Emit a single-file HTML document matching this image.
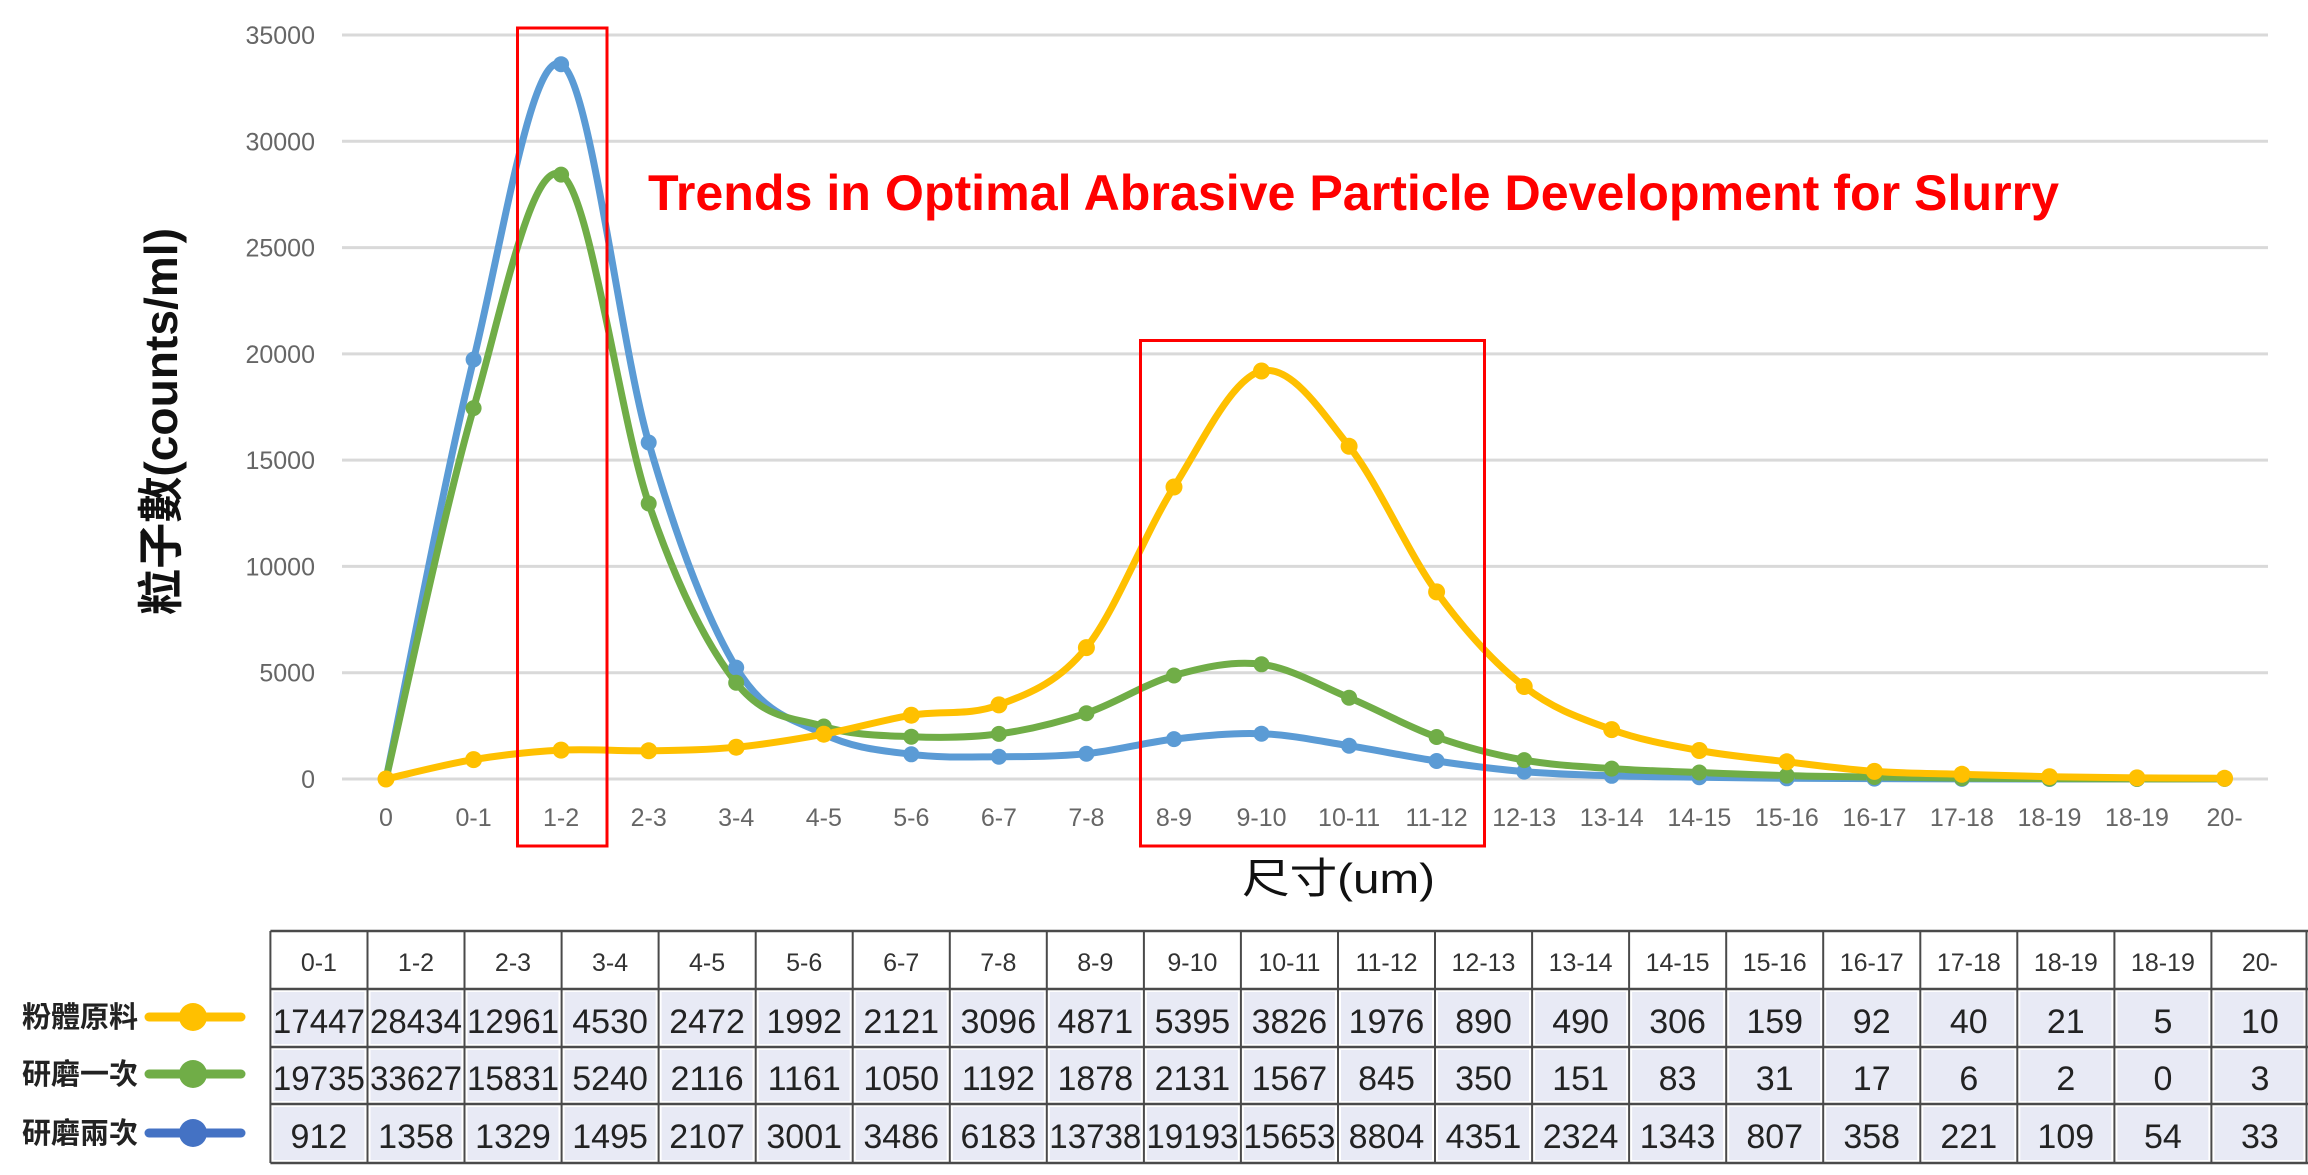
<!DOCTYPE html>
<html>
<head>
<meta charset="utf-8">
<style>
html,body{margin:0;padding:0;background:#fff;}
svg{display:block;}
.tk{font-family:"Liberation Sans",sans-serif;font-size:25px;fill:#666;}
.hd{font-family:"Liberation Sans",sans-serif;font-size:25px;fill:#333;text-anchor:middle;}
.dv{font-family:"Liberation Sans",sans-serif;font-size:34px;fill:#222;text-anchor:middle;}
.cjk{font-family:"Liberation Sans","Noto Sans CJK TC",sans-serif;}
</style>
</head>
<body>
<svg width="2308" height="1175" viewBox="0 0 2308 1175" xmlns="http://www.w3.org/2000/svg">
<rect width="2308" height="1175" fill="#fff"/>
<!-- gridlines -->
<g stroke="#d9d9d9" stroke-width="3">
<line x1="342" y1="35" x2="2268" y2="35"/>
<line x1="342" y1="141.3" x2="2268" y2="141.3"/>
<line x1="342" y1="247.6" x2="2268" y2="247.6"/>
<line x1="342" y1="353.9" x2="2268" y2="353.9"/>
<line x1="342" y1="460.1" x2="2268" y2="460.1"/>
<line x1="342" y1="566.4" x2="2268" y2="566.4"/>
<line x1="342" y1="672.7" x2="2268" y2="672.7"/>
<line x1="342" y1="779" x2="2268" y2="779"/>
</g>
<!-- y tick labels -->
<g class="tk" text-anchor="end">
<text x="315" y="44">35000</text>
<text x="315" y="150.3">30000</text>
<text x="315" y="256.6">25000</text>
<text x="315" y="362.9">20000</text>
<text x="315" y="469.1">15000</text>
<text x="315" y="575.4">10000</text>
<text x="315" y="681.7">5000</text>
<text x="315" y="788">0</text>
</g>
<!-- x tick labels -->
<g class="tk" text-anchor="middle">
<text x="386" y="826">0</text>
<text x="473.6" y="826">0-1</text>
<text x="561.1" y="826">1-2</text>
<text x="648.7" y="826">2-3</text>
<text x="736.2" y="826">3-4</text>
<text x="823.8" y="826">4-5</text>
<text x="911.3" y="826">5-6</text>
<text x="998.9" y="826">6-7</text>
<text x="1086.4" y="826">7-8</text>
<text x="1174" y="826">8-9</text>
<text x="1261.5" y="826">9-10</text>
<text x="1349.1" y="826">10-11</text>
<text x="1436.6" y="826">11-12</text>
<text x="1524.2" y="826">12-13</text>
<text x="1611.7" y="826">13-14</text>
<text x="1699.3" y="826">14-15</text>
<text x="1786.8" y="826">15-16</text>
<text x="1874.4" y="826">16-17</text>
<text x="1961.9" y="826">17-18</text>
<text x="2049.5" y="826">18-19</text>
<text x="2137" y="826">18-19</text>
<text x="2224.6" y="826">20-</text>
</g>
<!-- series -->
<g fill="none" stroke-width="7" stroke-linejoin="round" stroke-linecap="round">
<path stroke="#5B9BD5" d="M386,779 C400.6,709.1 444.4,478.6 473.6,359.5 C502.7,240.4 531.9,50.4 561.1,64.2 C590.3,78.0 619.5,341.9 648.7,442.5 C677.8,543.1 707.0,619.0 736.2,667.6 C765.4,716.2 794.6,719.6 823.8,734.0 C852.9,748.5 882.1,750.5 911.3,754.3 C940.5,758.1 969.7,756.8 998.9,756.7 C1028.0,756.6 1057.2,756.6 1086.4,753.7 C1115.6,750.8 1144.8,742.4 1174.0,739.1 C1203.1,735.8 1232.3,732.6 1261.5,733.7 C1290.7,734.8 1319.9,741.2 1349.1,745.7 C1378.2,750.3 1407.4,756.7 1436.6,761.0 C1465.8,765.3 1495.0,769.1 1524.2,771.6 C1553.3,774.1 1582.5,774.9 1611.7,775.8 C1640.9,776.7 1670.1,776.8 1699.3,777.2 C1728.4,777.6 1757.6,778.1 1786.8,778.3 L1874.4,778.6 L1961.9,778.9 L2049.5,779 L2137,779 L2224.6,778.9"/>
<path stroke="#70AD47" d="M386,779 C400.6,717.2 444.4,508.8 473.6,408.1 C502.7,307.4 531.9,158.7 561.1,174.6 C590.3,190.5 619.5,418.8 648.7,503.5 C677.8,588.2 707.0,645.5 736.2,682.7 C765.4,719.9 794.6,717.5 823.8,726.5 C852.9,735.5 882.1,735.5 911.3,736.7 C940.5,737.9 969.7,737.8 998.9,733.9 C1028.0,730.0 1057.2,722.9 1086.4,713.2 C1115.6,703.5 1144.8,683.7 1174.0,675.5 C1203.1,667.4 1232.3,660.6 1261.5,664.3 C1290.7,668.0 1319.9,685.6 1349.1,697.7 C1378.2,709.8 1407.4,726.6 1436.6,737.0 C1465.8,747.4 1495.0,754.8 1524.2,760.1 C1553.3,765.4 1582.5,766.5 1611.7,768.6 C1640.9,770.7 1670.1,771.3 1699.3,772.5 C1728.4,773.7 1757.6,774.9 1786.8,775.6 C1816.0,776.4 1845.2,776.6 1874.4,777.0 C1903.5,777.4 1932.7,777.9 1961.9,778.2 L2049.5,778.6 L2137,778.9 L2224.6,778.8"/>
<path stroke="#FFC000" d="M386,779 C400.6,775.8 444.4,764.4 473.6,759.6 C502.7,754.8 531.9,751.6 561.1,750.1 C590.3,748.6 619.5,751.3 648.7,750.8 C677.8,750.3 707.0,750.0 736.2,747.2 C765.4,744.4 794.6,739.5 823.8,734.2 C852.9,728.9 882.1,720.1 911.3,715.2 C940.5,710.3 969.7,716.2 998.9,704.9 C1028.0,693.6 1057.2,683.9 1086.4,647.6 C1115.6,611.3 1144.8,533.1 1174.0,487.0 C1203.1,440.9 1232.3,377.8 1261.5,371.0 C1290.7,364.2 1319.9,409.5 1349.1,446.3 C1378.2,483.1 1407.4,551.9 1436.6,591.9 C1465.8,631.9 1495.0,663.6 1524.2,686.5 C1553.3,709.5 1582.5,718.9 1611.7,729.6 C1640.9,740.3 1670.1,745.1 1699.3,750.5 C1728.4,755.9 1757.6,758.3 1786.8,761.8 C1816.0,765.3 1845.2,769.3 1874.4,771.4 C1903.5,773.5 1932.7,773.4 1961.9,774.3 C1991.1,775.2 2020.3,776.1 2049.5,776.7 C2078.6,777.3 2107.8,777.6 2137.0,777.9 L2224.6,778.3"/>
</g>
<!-- markers -->
<g fill="#5B9BD5">
<circle cx="386" cy="779" r="8"/><circle cx="473.6" cy="359.5" r="8"/><circle cx="561.1" cy="64.2" r="8"/><circle cx="648.7" cy="442.5" r="8"/><circle cx="736.2" cy="667.6" r="8"/><circle cx="823.8" cy="734" r="8"/><circle cx="911.3" cy="754.3" r="8"/><circle cx="998.9" cy="756.7" r="8"/><circle cx="1086.4" cy="753.7" r="8"/><circle cx="1174" cy="739.1" r="8"/><circle cx="1261.5" cy="733.7" r="8"/><circle cx="1349.1" cy="745.7" r="8"/><circle cx="1436.6" cy="761" r="8"/><circle cx="1524.2" cy="771.6" r="8"/><circle cx="1611.7" cy="775.8" r="8"/><circle cx="1699.3" cy="777.2" r="8"/><circle cx="1786.8" cy="778.3" r="8"/><circle cx="1874.4" cy="778.6" r="8"/><circle cx="1961.9" cy="778.9" r="8"/><circle cx="2049.5" cy="779" r="8"/><circle cx="2137" cy="779" r="8"/><circle cx="2224.6" cy="778.9" r="8"/>
</g>
<g fill="#70AD47">
<circle cx="386" cy="779" r="8"/><circle cx="473.6" cy="408.1" r="8"/><circle cx="561.1" cy="174.6" r="8"/><circle cx="648.7" cy="503.5" r="8"/><circle cx="736.2" cy="682.7" r="8"/><circle cx="823.8" cy="726.5" r="8"/><circle cx="911.3" cy="736.7" r="8"/><circle cx="998.9" cy="733.9" r="8"/><circle cx="1086.4" cy="713.2" r="8"/><circle cx="1174" cy="675.5" r="8"/><circle cx="1261.5" cy="664.3" r="8"/><circle cx="1349.1" cy="697.7" r="8"/><circle cx="1436.6" cy="737" r="8"/><circle cx="1524.2" cy="760.1" r="8"/><circle cx="1611.7" cy="768.6" r="8"/><circle cx="1699.3" cy="772.5" r="8"/><circle cx="1786.8" cy="775.6" r="8"/><circle cx="1874.4" cy="777" r="8"/><circle cx="1961.9" cy="778.2" r="8"/><circle cx="2049.5" cy="778.6" r="8"/><circle cx="2137" cy="778.9" r="8"/><circle cx="2224.6" cy="778.8" r="8"/>
</g>
<g fill="#FFC000">
<circle cx="386" cy="779" r="8.5"/><circle cx="473.6" cy="759.6" r="8.5"/><circle cx="561.1" cy="750.1" r="8.5"/><circle cx="648.7" cy="750.8" r="8.5"/><circle cx="736.2" cy="747.2" r="8.5"/><circle cx="823.8" cy="734.2" r="8.5"/><circle cx="911.3" cy="715.2" r="8.5"/><circle cx="998.9" cy="704.9" r="8.5"/><circle cx="1086.4" cy="647.6" r="8.5"/><circle cx="1174" cy="487" r="8.5"/><circle cx="1261.5" cy="371" r="8.5"/><circle cx="1349.1" cy="446.3" r="8.5"/><circle cx="1436.6" cy="591.9" r="8.5"/><circle cx="1524.2" cy="686.5" r="8.5"/><circle cx="1611.7" cy="729.6" r="8.5"/><circle cx="1699.3" cy="750.5" r="8.5"/><circle cx="1786.8" cy="761.8" r="8.5"/><circle cx="1874.4" cy="771.4" r="8.5"/><circle cx="1961.9" cy="774.3" r="8.5"/><circle cx="2049.5" cy="776.7" r="8.5"/><circle cx="2137" cy="777.9" r="8.5"/><circle cx="2224.6" cy="778.3" r="8.5"/>
</g>
<!-- red boxes -->
<g fill="none" stroke="#ff0000" stroke-width="3">
<rect x="517.5" y="28" width="89.5" height="818"/>
<rect x="1140.5" y="340.5" width="344" height="505.5"/>
</g>
<!-- title -->
<text x="648" y="210" font-family="Liberation Sans, sans-serif" font-weight="bold" font-size="50" fill="#ff0000" textLength="1411" lengthAdjust="spacingAndGlyphs">Trends in Optimal Abrasive Particle Development for Slurry</text>
<!-- axis titles -->
<text class="cjk" transform="translate(177,421.5) rotate(-90)" text-anchor="middle" font-size="46" font-weight="bold" fill="#111" textLength="387" lengthAdjust="spacingAndGlyphs">粒子數(counts/ml)</text>
<text class="cjk" x="1242" y="893" font-size="42" fill="#111" textLength="193" lengthAdjust="spacingAndGlyphs">尺寸(um)</text>

<!-- table -->
<g fill="#e8eaf5">
<rect x="273.4" y="992" width="91" height="52"/><rect x="370.5" y="992" width="91" height="52"/><rect x="467.5" y="992" width="91" height="52"/><rect x="564.6" y="992" width="91" height="52"/><rect x="661.6" y="992" width="91" height="52"/><rect x="758.7" y="992" width="91" height="52"/><rect x="855.7" y="992" width="91" height="52"/><rect x="952.8" y="992" width="91" height="52"/><rect x="1049.8" y="992" width="91" height="52"/><rect x="1146.9" y="992" width="91" height="52"/><rect x="1243.9" y="992" width="91" height="52"/><rect x="1341" y="992" width="91" height="52"/><rect x="1438" y="992" width="91" height="52"/><rect x="1535.1" y="992" width="91" height="52"/><rect x="1632.1" y="992" width="91" height="52"/><rect x="1729.2" y="992" width="91" height="52"/><rect x="1826.2" y="992" width="91" height="52"/><rect x="1923.3" y="992" width="91" height="52"/><rect x="2020.3" y="992" width="91" height="52"/><rect x="2117.4" y="992" width="91" height="52"/><rect x="2214.4" y="992" width="89" height="52"/>
<rect x="273.4" y="1050" width="91" height="51"/><rect x="370.5" y="1050" width="91" height="51"/><rect x="467.5" y="1050" width="91" height="51"/><rect x="564.6" y="1050" width="91" height="51"/><rect x="661.6" y="1050" width="91" height="51"/><rect x="758.7" y="1050" width="91" height="51"/><rect x="855.7" y="1050" width="91" height="51"/><rect x="952.8" y="1050" width="91" height="51"/><rect x="1049.8" y="1050" width="91" height="51"/><rect x="1146.9" y="1050" width="91" height="51"/><rect x="1243.9" y="1050" width="91" height="51"/><rect x="1341" y="1050" width="91" height="51"/><rect x="1438" y="1050" width="91" height="51"/><rect x="1535.1" y="1050" width="91" height="51"/><rect x="1632.1" y="1050" width="91" height="51"/><rect x="1729.2" y="1050" width="91" height="51"/><rect x="1826.2" y="1050" width="91" height="51"/><rect x="1923.3" y="1050" width="91" height="51"/><rect x="2020.3" y="1050" width="91" height="51"/><rect x="2117.4" y="1050" width="91" height="51"/><rect x="2214.4" y="1050" width="89" height="51"/>
<rect x="273.4" y="1107" width="91" height="53"/><rect x="370.5" y="1107" width="91" height="53"/><rect x="467.5" y="1107" width="91" height="53"/><rect x="564.6" y="1107" width="91" height="53"/><rect x="661.6" y="1107" width="91" height="53"/><rect x="758.7" y="1107" width="91" height="53"/><rect x="855.7" y="1107" width="91" height="53"/><rect x="952.8" y="1107" width="91" height="53"/><rect x="1049.8" y="1107" width="91" height="53"/><rect x="1146.9" y="1107" width="91" height="53"/><rect x="1243.9" y="1107" width="91" height="53"/><rect x="1341" y="1107" width="91" height="53"/><rect x="1438" y="1107" width="91" height="53"/><rect x="1535.1" y="1107" width="91" height="53"/><rect x="1632.1" y="1107" width="91" height="53"/><rect x="1729.2" y="1107" width="91" height="53"/><rect x="1826.2" y="1107" width="91" height="53"/><rect x="1923.3" y="1107" width="91" height="53"/><rect x="2020.3" y="1107" width="91" height="53"/><rect x="2117.4" y="1107" width="91" height="53"/><rect x="2214.4" y="1107" width="89" height="53"/>
</g>
<g stroke="#4a4a4a" stroke-width="2.5">
<line x1="270.4" y1="931" x2="2308" y2="931"/>
<line x1="270.4" y1="989" x2="2308" y2="989"/>
<line x1="270.4" y1="1047" x2="2308" y2="1047"/>
<line x1="270.4" y1="1104" x2="2308" y2="1104"/>
<line x1="270.4" y1="1163" x2="2308" y2="1163"/>
</g>
<g stroke="#4a4a4a" stroke-width="2">
<line x1="270.4" y1="931" x2="270.4" y2="1163"/><line x1="367.5" y1="931" x2="367.5" y2="1163"/><line x1="464.5" y1="931" x2="464.5" y2="1163"/><line x1="561.6" y1="931" x2="561.6" y2="1163"/><line x1="658.6" y1="931" x2="658.6" y2="1163"/><line x1="755.7" y1="931" x2="755.7" y2="1163"/><line x1="852.7" y1="931" x2="852.7" y2="1163"/><line x1="949.8" y1="931" x2="949.8" y2="1163"/><line x1="1046.8" y1="931" x2="1046.8" y2="1163"/><line x1="1143.9" y1="931" x2="1143.9" y2="1163"/><line x1="1240.9" y1="931" x2="1240.9" y2="1163"/><line x1="1338" y1="931" x2="1338" y2="1163"/><line x1="1435" y1="931" x2="1435" y2="1163"/><line x1="1532.1" y1="931" x2="1532.1" y2="1163"/><line x1="1629.1" y1="931" x2="1629.1" y2="1163"/><line x1="1726.2" y1="931" x2="1726.2" y2="1163"/><line x1="1823.2" y1="931" x2="1823.2" y2="1163"/><line x1="1920.3" y1="931" x2="1920.3" y2="1163"/><line x1="2017.3" y1="931" x2="2017.3" y2="1163"/><line x1="2114.4" y1="931" x2="2114.4" y2="1163"/><line x1="2211.4" y1="931" x2="2211.4" y2="1163"/><line x1="2306.5" y1="931" x2="2306.5" y2="1163"/>
</g>
<!-- header -->
<g class="hd">
<text x="318.9" y="971">0-1</text><text x="416" y="971">1-2</text><text x="513" y="971">2-3</text><text x="610.1" y="971">3-4</text><text x="707.1" y="971">4-5</text><text x="804.2" y="971">5-6</text><text x="901.2" y="971">6-7</text><text x="998.3" y="971">7-8</text><text x="1095.3" y="971">8-9</text><text x="1192.4" y="971">9-10</text><text x="1289.4" y="971">10-11</text><text x="1386.5" y="971">11-12</text><text x="1483.5" y="971">12-13</text><text x="1580.6" y="971">13-14</text><text x="1677.6" y="971">14-15</text><text x="1774.7" y="971">15-16</text><text x="1871.7" y="971">16-17</text><text x="1968.8" y="971">17-18</text><text x="2065.8" y="971">18-19</text><text x="2162.9" y="971">18-19</text><text x="2259.9" y="971">20-</text>
</g>
<!-- data rows -->
<g class="dv">
<text x="318.9" y="1033" textLength="92" lengthAdjust="spacingAndGlyphs">17447</text><text x="416" y="1033" textLength="92" lengthAdjust="spacingAndGlyphs">28434</text><text x="513" y="1033" textLength="92" lengthAdjust="spacingAndGlyphs">12961</text><text x="610.1" y="1033">4530</text><text x="707.1" y="1033">2472</text><text x="804.2" y="1033">1992</text><text x="901.2" y="1033">2121</text><text x="998.3" y="1033">3096</text><text x="1095.3" y="1033">4871</text><text x="1192.4" y="1033">5395</text><text x="1289.4" y="1033">3826</text><text x="1386.5" y="1033">1976</text><text x="1483.5" y="1033">890</text><text x="1580.6" y="1033">490</text><text x="1677.6" y="1033">306</text><text x="1774.7" y="1033">159</text><text x="1871.7" y="1033">92</text><text x="1968.8" y="1033">40</text><text x="2065.8" y="1033">21</text><text x="2162.9" y="1033">5</text><text x="2259.9" y="1033">10</text>
<text x="318.9" y="1090" textLength="92" lengthAdjust="spacingAndGlyphs">19735</text><text x="416" y="1090" textLength="92" lengthAdjust="spacingAndGlyphs">33627</text><text x="513" y="1090" textLength="92" lengthAdjust="spacingAndGlyphs">15831</text><text x="610.1" y="1090">5240</text><text x="707.1" y="1090">2116</text><text x="804.2" y="1090">1161</text><text x="901.2" y="1090">1050</text><text x="998.3" y="1090">1192</text><text x="1095.3" y="1090">1878</text><text x="1192.4" y="1090">2131</text><text x="1289.4" y="1090">1567</text><text x="1386.5" y="1090">845</text><text x="1483.5" y="1090">350</text><text x="1580.6" y="1090">151</text><text x="1677.6" y="1090">83</text><text x="1774.7" y="1090">31</text><text x="1871.7" y="1090">17</text><text x="1968.8" y="1090">6</text><text x="2065.8" y="1090">2</text><text x="2162.9" y="1090">0</text><text x="2259.9" y="1090">3</text>
<text x="318.9" y="1148">912</text><text x="416" y="1148">1358</text><text x="513" y="1148">1329</text><text x="610.1" y="1148">1495</text><text x="707.1" y="1148">2107</text><text x="804.2" y="1148">3001</text><text x="901.2" y="1148">3486</text><text x="998.3" y="1148">6183</text><text x="1095.3" y="1148" textLength="92" lengthAdjust="spacingAndGlyphs">13738</text><text x="1192.4" y="1148" textLength="92" lengthAdjust="spacingAndGlyphs">19193</text><text x="1289.4" y="1148" textLength="92" lengthAdjust="spacingAndGlyphs">15653</text><text x="1386.5" y="1148">8804</text><text x="1483.5" y="1148">4351</text><text x="1580.6" y="1148">2324</text><text x="1677.6" y="1148">1343</text><text x="1774.7" y="1148">807</text><text x="1871.7" y="1148">358</text><text x="1968.8" y="1148">221</text><text x="2065.8" y="1148">109</text><text x="2162.9" y="1148">54</text><text x="2259.9" y="1148">33</text>
</g>
<!-- legend -->
<g class="cjk" font-size="29" font-weight="bold" fill="#222">
<text x="22" y="1027" textLength="116" lengthAdjust="spacingAndGlyphs">粉體原料</text>
<text x="22" y="1084" textLength="116" lengthAdjust="spacingAndGlyphs">研磨一次</text>
<text x="22" y="1143" textLength="116" lengthAdjust="spacingAndGlyphs">研磨兩次</text>
</g>
<g stroke-width="9" stroke-linecap="round">
<line x1="149" y1="1017" x2="241" y2="1017" stroke="#FFC000"/>
<line x1="149" y1="1074" x2="241" y2="1074" stroke="#70AD47"/>
<line x1="149" y1="1133" x2="241" y2="1133" stroke="#4472C4"/>
</g>
<circle cx="193" cy="1017" r="14" fill="#FFC000"/>
<circle cx="193" cy="1074" r="14" fill="#70AD47"/>
<circle cx="193" cy="1133" r="14" fill="#4472C4"/>
</svg>
</body>
</html>
